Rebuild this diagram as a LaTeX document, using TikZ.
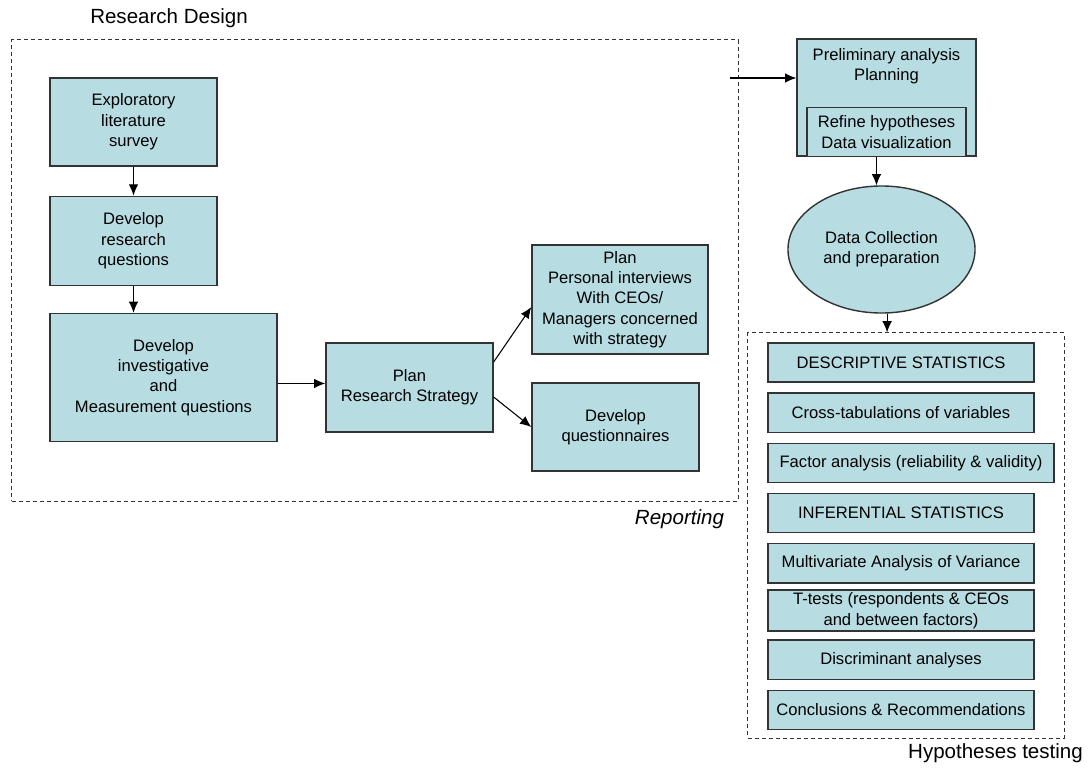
\documentclass[tikz,border=0pt]{standalone}
\usepackage{fontspec}
\setmainfont{Liberation Sans}
\usetikzlibrary{positioning, shapes.geometric, arrows.meta, calc}

\definecolor{boxfill}{RGB}{183,221,227}

\begin{document}
\begin{tikzpicture}[
    x=0.025cm, y=-0.025cm,
    boxtext/.style={align=center, font=\fontsize{11.8}{14.5}\selectfont},
    box/.style={boxtext, rectangle, draw=black!80, line width=1pt, fill=boxfill, inner sep=2pt},
    stat/.style={box, outer sep=0pt, minimum width=6.65cm, minimum height=0.98cm},
    group/.style={rectangle, draw=black!80, line width=0.75pt, dash pattern=on 0.1cm off 0.075cm},
    arrow/.style={-{Latex[length=2.8mm, width=2.4mm]}, line width=0.75pt},
    grouplabel/.style={font=\fontsize{14.6}{17}\selectfont}
]
    \useasboundingbox (0,0) rectangle (1088,770);

    % Research design
    \node[group, minimum width=18.15cm, minimum height=11.525cm] (design) at (375,270.5) {};
    \node[grouplabel] (design-label) at (169,18) {Research Design};
    \node[grouplabel] (reporting) at (679.5,519) {\textit{Reporting}};

    \node[box, minimum width=4.175cm, minimum height=2.2cm] (explore) at (133.5,122) {Exploratory\\literature\\survey};
    \node[box, minimum width=4.175cm, minimum height=2.225cm, below=0.72cm of explore] (questions) {Develop\\research\\questions};
    \node[box, minimum width=5.675cm, minimum height=3.2cm, below=0.67cm of questions.south west, anchor=north west] (investigate) {Develop\\investigative\\and\\Measurement questions};
    \node[box, minimum width=4.175cm, minimum height=2.225cm] (strategy) at (409.5,387.5) {Plan\\Research Strategy};
    \node[box, minimum width=4.4cm, minimum height=2.725cm] (interviews) at (620,299.5) {Plan\\Personal interviews\\With CEOs/\\Managers concerned\\with strategy};
    \node[box, minimum width=4.175cm, minimum height=2.2cm] (questionnaires) at (615.5,427) {Develop\\questionnaires};

    % Analysis planning
    \node[box, minimum width=4.475cm, minimum height=2.925cm] (prelim) at (886.5,97.5) {};
    \node[boxtext] (prelim-text) at (886.5,66.5) {Preliminary analysis\\Planning};
    \node[box, minimum width=3.975cm, minimum height=1.225cm, above=-0.5pt of prelim.south] (refine) {Refine hypotheses\\Data visualization};
    \node[box, ellipse, minimum width=4.675cm, minimum height=3.175cm] (collect) at (881.5,249.5) {Data Collection\\and preparation};

    % Hypotheses testing
    \node[group, minimum width=7.9cm, minimum height=10.125cm] (testing) at (906,535.5) {};
    \node[grouplabel] (testing-label) at (995.5,753) {Hypotheses testing};

    \node[stat] (descriptive) at (901,362.5) {DESCRIPTIVE STATISTICS};
    \node[stat, below=0.275cm of descriptive] (crosstab) {Cross-tabulations of variables};
    \node[stat, minimum width=7.15cm, below=0.275cm of crosstab.south west, anchor=north west] (factor) {Factor analysis (reliability \& validity)};
    \node[stat, below=0.275cm of factor.south west, anchor=north west] (inferential) {INFERENTIAL STATISTICS};
    \node[stat, below=0.275cm of inferential] (manova) {Multivariate Analysis of Variance};
    \node[stat, minimum height=1.025cm, inner ysep=0.5pt, below=0.18cm of manova] (ttests) {T-tests (respondents \& CEOs\\and between factors)};
    \node[stat, below=0.225cm of ttests] (discriminant) {Discriminant analyses};
    \node[stat, below=0.275cm of discriminant] (conclusions) {Conclusions \& Recommendations};

    % Arrows
    \draw[arrow] (explore) -- (questions);
    \draw[arrow] (questions) -- (questions |- investigate.north);
    \draw[arrow] ([yshift=-0.15cm]investigate.east) -- ([yshift=-0.15cm]investigate.east -| strategy.west);
    \draw[arrow] ([yshift=0.64cm]strategy.east) -- ([yshift=-0.19cm]interviews.west);
    \draw[arrow] ([yshift=-0.24cm]strategy.east) -- (questionnaires.west);

    \coordinate (entry) at (730,78);
    \draw[arrow] (entry) -- (entry -| prelim.west);
    \draw[arrow] ([xshift=-0.25cm]prelim.south) -- ([xshift=-0.25cm]prelim.south |- collect.north);
    \draw[arrow] ([xshift=0.14cm]collect.south) -- ([xshift=0.14cm]collect.south |- testing.north);
\end{tikzpicture}
\end{document}
